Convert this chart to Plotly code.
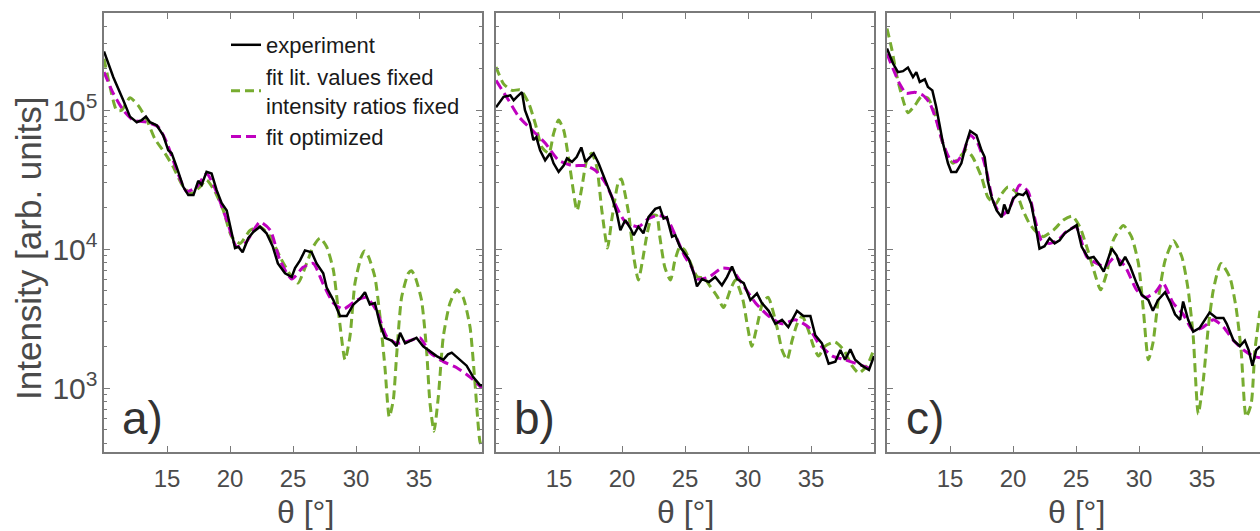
import plotly.graph_objects as go

# ---------------- data (theta in degrees, intensity in arb. units) ----------------
a_experiment = [(10.0, 265000), (10.74, 173000), (11.53, 118000), (12.06, 90000), (12.6, 82000),
                (13.0, 85000), (13.33, 90000), (13.65, 82000), (14.18, 78000), (14.7, 66000),
                (15.1, 51500), (15.37, 49000), (15.77, 39000), (16.3, 28000), (16.69, 24500),
                (17.1, 24500), (17.48, 31000), (17.75, 29000), (18.14, 36000), (18.54, 35000),
                (18.94, 26600), (19.33, 21500), (19.74, 19000), (20.13, 13000), (20.4, 10200),
                (20.66, 10400), (21.0, 9500), (21.45, 12000), (21.85, 13300), (22.38, 14500),
                (22.9, 13000), (23.4, 10400), (23.8, 7900), (24.37, 6700), (24.9, 6300),
                (25.16, 7300), (25.56, 8300), (25.95, 9800), (26.48, 9500), (26.87, 7900),
                (27.4, 6700), (27.67, 5300), (28.2, 4300), (28.73, 3300), (29.26, 3300),
                (29.79, 4000), (30.32, 4400), (30.71, 4900), (31.1, 4000), (31.5, 4100),
                (31.9, 2900), (32.3, 2300), (32.83, 2200), (33.22, 2000), (33.5, 2500),
                (33.9, 2100), (34.3, 2200), (34.8, 2300), (35.33, 2000), (35.87, 1850),
                (36.4, 1700), (36.93, 1600), (37.3, 1750), (37.6, 1800), (38.25, 1600),
                (38.78, 1450), (39.3, 1200), (39.84, 1050), (40.0, 1050)]
a_fit_lit = [(10.0, 235000), (10.48, 147000), (11.0, 100000), (11.4, 100000), (12.06, 123000),
             (12.72, 108000), (13.4, 85000), (14.05, 62000), (14.84, 49000), (15.5, 39000),
             (16.3, 28000), (16.95, 25200), (17.6, 28000), (18.14, 31500), (18.8, 26000),
             (19.47, 19000), (20.13, 12300), (20.8, 11000), (21.6, 13700), (22.38, 14500),
             (23.2, 12300), (23.97, 8800), (24.9, 6300), (25.4, 5700), (26.08, 7900),
             (26.6, 10400), (27.14, 12000), (27.67, 10400), (28.2, 7100), (28.6, 3600),
             (29.13, 1600), (29.52, 2350), (29.92, 5700), (30.45, 9000), (30.7, 9700),
             (31.0, 8800), (31.5, 6300), (31.9, 3300), (32.3, 1400), (32.64, 620),
             (32.96, 820), (33.22, 1700), (33.62, 4500), (34.15, 6700), (34.4, 7000),
             (34.7, 6300), (35.2, 4300), (35.6, 1880), (35.87, 780), (36.19, 490),
             (36.53, 860), (36.93, 2350), (37.46, 4100), (38.0, 5100), (38.5, 4500),
             (39.05, 2750), (39.44, 1100), (39.84, 410), (40.0, 380)]
a_fit_opt = [(10.0, 188000), (10.74, 132000), (11.53, 100000), (12.3, 85000), (13.4, 82000),
             (14.3, 76000), (15.0, 58000), (15.77, 37000), (16.56, 26000), (17.35, 28000),
             (18.14, 35000), (18.8, 27500), (19.74, 16200), (20.53, 10400), (21.3, 11300),
             (22.38, 15700), (23.2, 13700), (23.97, 8300), (24.9, 6100), (25.8, 7400),
             (26.6, 7900), (27.4, 5600), (28.2, 4100), (29.0, 3700), (30.05, 4300),
             (30.84, 4500), (31.64, 3600), (32.43, 2350), (33.22, 2100), (34.3, 2200),
             (35.08, 2300), (35.87, 1800), (36.93, 1550), (38.0, 1400), (39.05, 1200),
             (40.0, 1000)]

b_experiment = [(10.0, 105000), (10.6, 125000), (11.14, 128000), (11.4, 118000), (11.66, 125000),
                (12.06, 135000), (12.3, 100000), (12.7, 80000), (12.96, 61000), (13.2, 64000),
                (13.5, 51500), (13.9, 43600), (14.3, 49000), (14.57, 41500), (14.97, 36000),
                (15.37, 40000), (15.63, 45000), (16.03, 42500), (16.4, 46000), (16.77, 54000),
                (17.1, 42500), (17.48, 46000), (17.75, 49000), (18.14, 41500), (18.68, 31000),
                (19.2, 23700), (19.6, 18000), (19.87, 13700), (20.26, 16200), (20.66, 14200),
                (20.93, 12600), (21.3, 14500), (21.7, 13000), (22.1, 17000), (22.64, 19500),
                (23.0, 20000), (23.3, 16600), (23.56, 17000), (23.97, 12300), (24.23, 12600),
                (24.6, 10400), (25.0, 9300), (25.3, 8500), (25.7, 6700), (25.95, 5400),
                (26.35, 6100), (26.9, 5800), (27.4, 6300), (27.93, 5500), (28.33, 6300),
                (28.73, 7500), (29.13, 6100), (29.66, 5700), (30.19, 4300), (30.71, 4800),
                (31.1, 4100), (31.64, 3600), (32.17, 2900), (32.7, 3100), (33.2, 2750),
                (33.89, 3600), (34.4, 3300), (34.95, 3300), (35.34, 2400), (35.87, 2100),
                (36.4, 1500), (36.93, 1550), (37.33, 1880), (37.7, 1600), (38.12, 1900),
                (38.5, 1600), (39.05, 1450), (39.6, 1350), (40.0, 1700)]
b_fit_lit = [(10.0, 205000), (10.6, 155000), (11.27, 139000), (11.93, 140000), (12.6, 112000),
             (13.12, 80000), (13.65, 54000), (14.2, 49000), (14.57, 68000), (14.97, 85000),
             (15.37, 72000), (15.9, 37000), (16.43, 19000), (16.82, 28000), (17.2, 43600),
             (17.6, 49000), (18.0, 39000), (18.4, 19000), (18.85, 10200), (19.2, 16600),
             (19.74, 31000), (19.95, 32000), (20.13, 28000), (20.53, 18000), (20.93, 8800),
             (21.3, 6000), (21.6, 8000), (22.0, 13000), (22.4, 17500), (22.75, 17500),
             (23.0, 12300), (23.4, 7400), (23.85, 6000), (24.2, 8300), (24.6, 10400),
             (25.0, 9800), (25.66, 7100), (26.0, 6300), (26.5, 6200), (27.0, 5400),
             (27.6, 4500), (28.05, 3800), (28.6, 5100), (29.0, 6000), (29.6, 4300),
             (29.9, 3000), (30.3, 2000), (30.7, 2750), (31.2, 4200), (31.6, 4500),
             (32.3, 2750), (32.7, 1880), (33.1, 1600), (33.5, 2200), (33.9, 2900),
             (34.3, 3300), (34.8, 2600), (35.2, 2000), (35.6, 1700), (36.1, 2000),
             (36.9, 2150), (37.6, 1880), (38.25, 1450), (38.8, 1280), (39.44, 1450),
             (40.0, 1900)]
b_fit_opt = [(10.0, 164000), (11.0, 118000), (11.8, 90000), (12.86, 72000), (13.9, 58000),
             (14.97, 43600), (16.03, 40000), (17.1, 40000), (17.88, 37000), (18.68, 30000),
             (19.47, 21000), (20.26, 15700), (21.3, 14500), (22.1, 16600), (22.9, 17500),
             (23.56, 16600), (24.23, 12600), (25.0, 8800), (25.5, 7500), (25.95, 6100),
             (26.9, 6300), (27.93, 7300), (28.73, 7100), (29.5, 5700), (30.6, 4100),
             (31.64, 3300), (32.7, 2900), (33.75, 3100), (34.8, 2750), (35.6, 2100),
             (36.7, 1700), (37.7, 1600), (38.8, 1480), (40.0, 1350)]

c_experiment = [(10.0, 278000), (10.48, 217000), (10.87, 188000), (11.27, 191000), (11.66, 203000),
                (12.06, 173000), (12.33, 188000), (12.6, 160000), (13.0, 167000), (13.25, 147000),
                (13.6, 139000), (13.9, 106000), (14.2, 76000), (14.44, 58000), (14.84, 41500),
                (15.1, 36000), (15.5, 36000), (15.9, 41500), (16.3, 58000), (16.6, 71000),
                (17.1, 66000), (17.5, 51500), (17.75, 46000), (18.0, 31000), (18.3, 23700),
                (18.7, 19000), (19.1, 17000), (19.3, 21000), (19.6, 18000), (20.0, 23000),
                (20.4, 25000), (20.8, 24500), (21.06, 26000), (21.45, 21000), (21.85, 13700),
                (22.1, 10100), (22.5, 10500), (22.9, 12000), (23.3, 11000), (23.7, 11600),
                (24.1, 13000), (24.5, 13700), (25.05, 14900), (25.45, 10400), (25.98, 8600),
                (26.4, 8800), (26.8, 7900), (27.2, 6900), (27.43, 8000), (27.83, 10100),
                (28.23, 9000), (28.5, 7600), (28.9, 8800), (29.3, 7500), (29.8, 5700),
                (30.2, 4700), (30.74, 4300), (31.1, 3600), (31.5, 4300), (32.07, 4900),
                (32.5, 4100), (32.86, 3400), (33.26, 3100), (33.5, 4200), (33.9, 3100),
                (34.3, 2550), (34.8, 2700), (35.2, 3100), (35.6, 3500), (36.14, 3200),
                (36.7, 3200), (36.96, 2900), (37.5, 2200), (38.0, 2000), (38.4, 2200),
                (38.7, 1880), (39.0, 1450), (39.3, 1880), (39.6, 2000)]
c_fit_lit = [(10.0, 387000), (10.4, 270000), (10.8, 173000), (11.2, 125000), (11.66, 96000),
             (12.2, 108000), (12.75, 126000), (13.25, 122000), (13.8, 95000), (14.2, 68000),
             (14.7, 49000), (15.24, 41500), (15.77, 46000), (16.3, 51500), (16.8, 46000),
             (17.5, 33000), (18.0, 23700), (18.6, 21000), (19.1, 25000), (19.6, 28000),
             (20.2, 26000), (20.8, 19000), (21.3, 15300), (21.85, 13300), (22.4, 12300),
             (23.2, 13700), (24.0, 16200), (24.7, 17300), (25.3, 14500), (25.85, 10400),
             (26.4, 7100), (26.95, 5100), (27.43, 6700), (27.96, 11600), (28.76, 14800),
             (29.4, 12300), (29.95, 7900), (30.35, 3600), (30.74, 1600), (31.1, 2100),
             (31.55, 4500), (32.07, 8300), (32.74, 11500), (33.4, 8800), (33.9, 5100),
             (34.3, 2350), (34.7, 650), (35.1, 1140), (35.5, 2750), (35.9, 5100),
             (36.5, 7900), (37.2, 6300), (37.7, 3800), (38.1, 1880), (38.5, 620),
             (38.9, 770), (39.2, 1880), (39.6, 3600)]
c_fit_opt = [(10.0, 255000), (10.48, 199000), (11.0, 155000), (11.53, 132000), (12.2, 135000),
             (12.86, 128000), (13.4, 112000), (13.9, 85000), (14.44, 58000), (14.97, 45000),
             (15.5, 42500), (16.03, 49000), (16.6, 66000), (17.2, 58000), (17.88, 37000),
             (18.4, 22500), (19.1, 17500), (19.74, 20000), (20.53, 29000), (21.2, 26000),
             (21.7, 17000), (22.25, 11600), (22.9, 11000), (23.56, 11600), (24.2, 13300),
             (25.0, 14500), (25.85, 8800), (26.65, 7900), (27.3, 7500), (28.1, 8800),
             (28.9, 7500), (29.8, 5100), (30.5, 4500), (31.3, 4900), (31.9, 5700),
             (32.7, 4100), (33.5, 3400), (34.3, 2600), (35.1, 2750), (35.9, 3100),
             (36.7, 2750), (37.5, 2200), (38.3, 1880), (39.05, 1700), (39.6, 1650)]

panel_labels = ["a)", "b)", "c)"]
x_ticks = [15, 20, 25, 30, 35]
series_names = ["experiment", "fit lit. values fixed<br>intensity ratios fixed", "fit optimized"]

# ---------------- style ----------------
W, H = 1260, 531
GREEN = "#77AC30"
MAGENTA = "#BF00BF"
BLACK = "#000000"
AXIS = "#7a7a7a"
TXT = "#4a4a4a"
FONT = "Liberation Sans, Arial, sans-serif"

def fx(p):
    return p / W

def fy(p):
    return 1 - p / H

panel_px = [(104, 482, 40.0), (496, 874, 40.0), (887, 1260, 39.6)]
y_dom = [fy(452), fy(13)]
y_range = [2.54, 5.70]

fig = go.Figure()

data = [(a_experiment, a_fit_lit, a_fit_opt),
        (b_experiment, b_fit_lit, b_fit_opt),
        (c_experiment, c_fit_lit, c_fit_opt)]

for i, (exp, lit, opt) in enumerate(data):
    xa = "x" if i == 0 else f"x{i+1}"
    ya = "y" if i == 0 else f"y{i+1}"
    show = i == 0
    fig.add_trace(go.Scatter(x=[p[0] for p in lit], y=[p[1] for p in lit], mode="lines",
                             name=series_names[1], legendrank=2, showlegend=show,
                             line=dict(color=GREEN, width=3, dash="9px,5px", shape="spline", smoothing=0.6),
                             xaxis=xa, yaxis=ya))
    fig.add_trace(go.Scatter(x=[p[0] for p in opt], y=[p[1] for p in opt], mode="lines",
                             name=series_names[2], legendrank=3, showlegend=show,
                             line=dict(color=MAGENTA, width=3, dash="10px,5px", shape="spline", smoothing=0.6),
                             xaxis=xa, yaxis=ya))
    fig.add_trace(go.Scatter(x=[p[0] for p in exp], y=[p[1] for p in exp], mode="lines",
                             name=series_names[0], legendrank=1, showlegend=show,
                             line=dict(color=BLACK, width=2.5),
                             xaxis=xa, yaxis=ya))

layout = dict(
    width=W, height=H,
    margin=dict(l=0, r=0, t=0, b=0),
    paper_bgcolor="white", plot_bgcolor="white",
    font=dict(family=FONT, color=TXT),
    showlegend=True,
    legend=dict(x=fx(226), y=fy(24), xanchor="left", yanchor="top",
                bgcolor="rgba(0,0,0,0)", borderwidth=0,
                font=dict(size=22, color="#1a1a1a", family=FONT),
                itemwidth=30, tracegroupgap=0),
    annotations=[],
)

for i, (l, r, xmax) in enumerate(panel_px):
    sx = "" if i == 0 else str(i + 1)
    layout["xaxis" + sx] = dict(
        domain=[fx(l), fx(r)], range=[10, xmax], anchor="y" + sx,
        tickvals=x_ticks, ticks="inside", ticklen=6, tickwidth=1.2, tickcolor=AXIS,
        showline=True, linecolor=AXIS, linewidth=1.5, mirror="allticks",
        showgrid=False, zeroline=False, ticklabelstandoff=4,
        tickfont=dict(size=24, color=TXT, family=FONT),
    )
    layout["yaxis" + sx] = dict(
        domain=y_dom, type="log", range=y_range, anchor="x" + sx,
        dtick=1, exponentformat="power", showexponent="all",
        ticks="inside", ticklen=6, tickwidth=1.2, tickcolor=AXIS,
        minor=dict(ticks="inside", ticklen=3, tickcolor=AXIS, dtick="D1", showgrid=False),
        showline=True, linecolor=AXIS, linewidth=1.5,
        mirror=("allticks" if i < 2 else False),
        showgrid=False, zeroline=False, showticklabels=(i == 0),
        tickfont=dict(size=24, color=TXT, family=FONT),
    )
    layout["annotations"].append(dict(
        text=panel_labels[i], x=fx(l + 38), y=fy(418), xref="paper", yref="paper",
        showarrow=False, font=dict(size=46, color="#333333", family=FONT),
        xanchor="center", yanchor="middle"))
    cx = (l + 378 / 2) + (12 if i == 0 else 0)
    layout["annotations"].append(dict(
        text="θ [°]", x=fx(cx), y=fy(512), xref="paper", yref="paper",
        showarrow=False, font=dict(size=32, color=TXT, family=FONT),
        xanchor="center", yanchor="middle"))

layout["annotations"].append(dict(
    text="Intensity [arb. units]", x=fx(28), y=fy(249), xref="paper", yref="paper",
    showarrow=False, textangle=-90, font=dict(size=35, color=TXT, family=FONT),
    xanchor="center", yanchor="middle"))

fig.update_layout(**layout)

fig.write_html("out.html", post_script="document.body.style.margin='0';")
